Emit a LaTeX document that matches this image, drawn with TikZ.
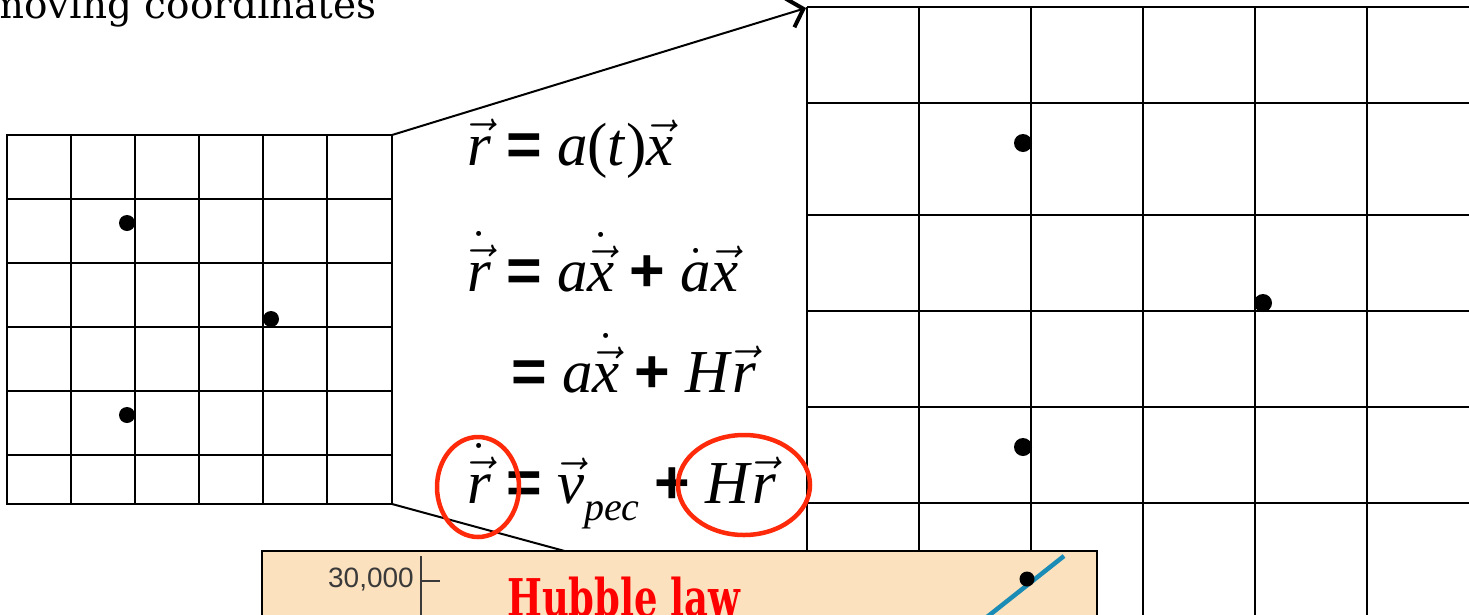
\RequirePackage{fix-cm}
\documentclass[tikz,border=0pt]{standalone}
\usepackage{amsmath}
\usepackage[no-math]{fontspec}
\setmainfont{Liberation Serif}
\newfontfamily\eqfont{Liberation Serif}
\newfontfamily\titlefont{DejaVu Serif}
\newfontfamily\signfont{Liberation Sans}
\newfontfamily\lawfont{DejaVu Serif}
\newfontfamily\axisfont{Liberation Sans}
\usetikzlibrary{arrows.meta, positioning}

\definecolor{ringred}{HTML}{FF2A0A}
\definecolor{lawred}{HTML}{FF0000}
\definecolor{plotbg}{HTML}{FCE1BE}
\definecolor{fitblue}{HTML}{1A8CB5}
\definecolor{ticktext}{HTML}{3A3A3A}

\newcommand{\vecr}{\ensuremath{\vec{\mbox{\itshape r}}}}
\newcommand{\vecx}{\ensuremath{\vec{\mbox{\itshape x}}}}
\newcommand{\vecv}{\ensuremath{\vec{\mbox{\itshape v}}}}
\newcommand{\dvecr}{\ensuremath{\dot{\vec{\mbox{\itshape r}}}}}
\newcommand{\dvecx}{\ensuremath{\dot{\vec{\mbox{\itshape x}}}}}
\newcommand{\dota}{\ensuremath{\dot{\mbox{\itshape a}}}}
\newcommand{\eqsgn}{{\signfont\bfseries =}}
\newcommand{\plsgn}{{\signfont\bfseries +}}

\begin{document}
\begin{tikzpicture}[
  x=1pt, y=-1pt,
  gridline/.style={line width=2pt, black},
  galaxy/.style={circle, fill=black, inner sep=0pt, minimum size=16pt},
  eqline/.style={anchor=base west, inner sep=0pt, font=\eqfont\fontsize{61}{70}\selectfont},
  ring/.style={draw=ringred, line width=4.5pt},
  link/.style={line width=2pt}
]
\useasboundingbox (0,0) rectangle (1469,614);
\clip (0,0) rectangle (1469,614);

% comoving grid, small
\draw[gridline] (7,135) rectangle (392,504);
\foreach \x in {71,135,199,263,327}
  \draw[gridline] (\x,135) -- (\x,504);
\foreach \y in {199,263,327,391,455}
  \draw[gridline] (7,\y) -- (392,\y);
\node[galaxy] (s1) at (127,223) {};
\node[galaxy] (s2) at (271,319) {};
\node[galaxy] (s3) at (127,415) {};

% comoving grid, expanded
\foreach \x in {807,919,1031,1143,1255,1367}
  \draw[gridline] (\x,7) -- (\x,620);
\foreach \y in {7,103,215,311,407,503}
  \draw[gridline] (807,\y) -- (1475,\y);
\node[galaxy, minimum size=18pt] (b1) at (1023,143) {};
\node[galaxy, minimum size=18pt] (b2) at (1263,303) {};
\node[galaxy, minimum size=18pt] (b3) at (1023,447) {};

% corners for the links
\coordinate (small-ne) at (392,135);
\coordinate (small-se) at (392,504);
\coordinate (big-nw) at (806,8);
\coordinate (big-sw) at (807,617);
\draw[link, -{Straight Barb[length=14pt, width=30pt, line width=4pt]}] (small-ne) -- (big-nw);
\draw[link] (small-se) -- (big-sw);

% title
\node[anchor=base east, inner sep=0pt, font=\titlefont\fontsize{39}{44}\selectfont] (title) at (377,18) {moving coordinates};

% equations
\node[eqline] (eq1) at (467,165) {\vecr{} \eqsgn{} \textit{a}(\textit{t})\vecx};
\node[eqline] (eq2) at (467,291) {\dvecr{} \eqsgn{} \textit{a}\dvecx{} \plsgn{} \dota\vecx};
\node[eqline] (eq3) at (511,392) {\eqsgn{} \textit{a}\dvecx{} \plsgn{} \textit{H}\vecr};
\node[eqline] (eq4) at (467,503) {\dvecr{} \eqsgn{} \vecv\raisebox{-17pt}{\fontsize{40}{44}\selectfont\itshape pec} \plsgn{} \textit{H}\vecr};

% highlights
\draw[ring] (478,487) ellipse [x radius=41, y radius=50];
\draw[ring] (744,485) ellipse [x radius=66, y radius=50];

% Hubble plot inset
\draw[line width=2pt, fill=plotbg] (262,551) rectangle (1097,650);
\draw[line width=1.5pt, ticktext] (421,556) -- (421,650);
\draw[line width=1.5pt, ticktext] (421,581) -- (440,581);
\node[anchor=east, inner sep=0pt, text=ticktext, font=\axisfont\fontsize{28}{30}\selectfont] (tick30) at (414,580) {30,000};
\node[anchor=base west, inner sep=0pt, text=lawred, font=\lawfont\bfseries\fontsize{52}{56}\selectfont] (law) at (507,616) {\scalebox{0.71}[1]{Hubble law}};
\draw[line width=4.5pt, fitblue] (987,617) -- (1064,556);
\node[galaxy, minimum size=15pt] (pt) at (1027,579) {};
\end{tikzpicture}
\end{document}
